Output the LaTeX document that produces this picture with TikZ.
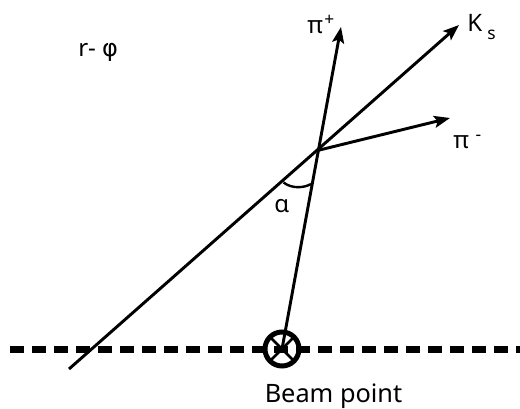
\documentclass[tikz,border=0pt]{standalone}
\usepackage{fontspec}
\setmainfont{Noto Sans}
\newfontfamily\phifont{DejaVu Sans}
\usetikzlibrary{arrows.meta}
\newcommand{\supsz}{\fontsize{13}{13}\selectfont}
\begin{document}
\begin{tikzpicture}[x=0.75pt, y=-0.75pt, >={Stealth[length=12pt,width=9pt,inset=2.5pt]},
    trk/.style={line width=2.2pt},
    lbl/.style={inner sep=0pt, font=\fontsize{18}{21}\selectfont}]
\useasboundingbox (0,0) rectangle (520,409);
\coordinate (bp) at (282,349);
\coordinate (vx) at (317.5,150.5);
\coordinate (ks0) at (69,369);
\coordinate (ks) at (459,25);
\coordinate (pp) at (341,27);
\coordinate (pm) at (450,118);
\coordinate (bl) at (10,349);
\coordinate (br) at (520,349);
\coordinate (a1) at (283.5,182.5);
\coordinate (a2) at (311,184);
% beam line
\draw[line width=5.25pt, dash pattern=on 10.5pt off 6pt] (bl) -- (br);
% tracks
\draw[trk, ->] (ks0) -- (ks);
\draw[trk, ->] (bp) -- (pp);
\draw[trk, ->] (vx) -- (pm);
\draw[line width=1.8pt] (a1) .. controls (292,189) and (304,188) .. (a2);
% beam point
\draw[line width=3.75pt] (bp) circle[radius=17];
\draw[line width=2pt] ([shift={(-12,-12)}]bp) -- ([shift={(12,12)}]bp);
\draw[line width=2pt] ([shift={(-12,12)}]bp) -- ([shift={(12,-12)}]bp);
% labels
\node[lbl, anchor=base west] (rphi) at (78,57) {r- {\phifont φ}};
\node[lbl, anchor=base west] (lpp) at (307,34) {π\hspace{1pt}\raisebox{6pt}{\supsz +}};
\node[lbl, anchor=base west] (lks) at (467,32) {K\hspace{4pt}\raisebox{-6pt}{\supsz s}};
\node[lbl, anchor=base west] (lpm) at (453,149) {π\hspace{5pt}\raisebox{6.5pt}{\supsz -}};
\node[lbl, anchor=base west] (lal) at (274,213) {α};
\node[lbl, anchor=base, font=\fontsize{19}{22}\selectfont] (lbp) at (333.5,402) {Beam point};
\end{tikzpicture}
\end{document}
